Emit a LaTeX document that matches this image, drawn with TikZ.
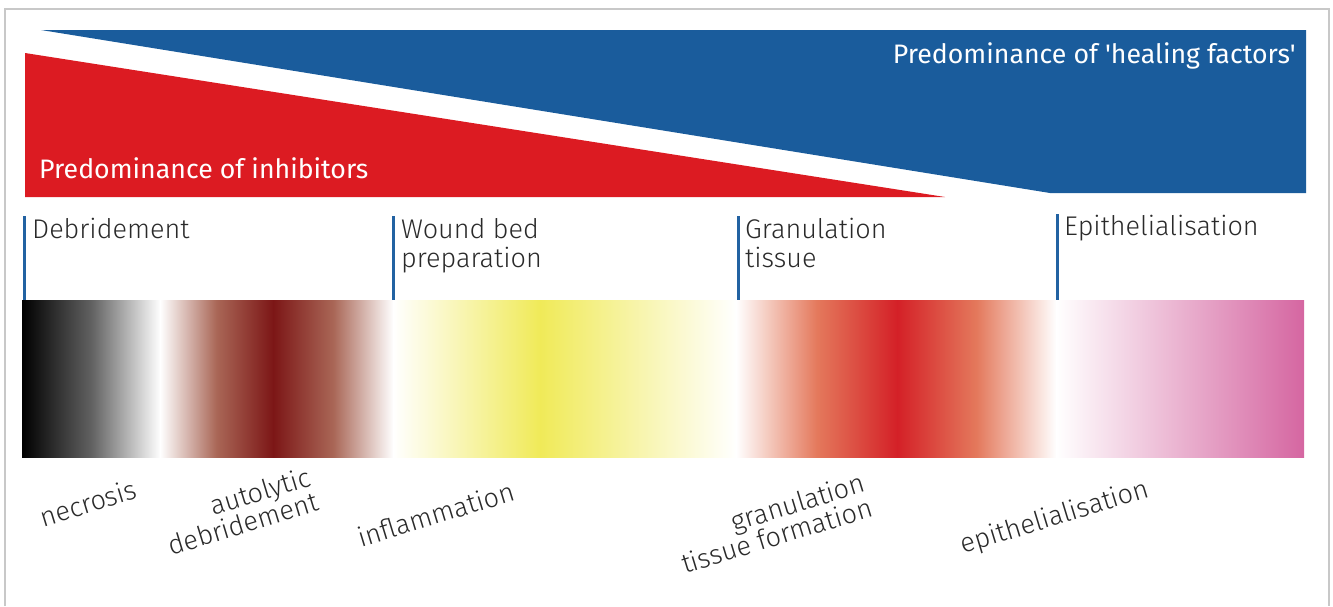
\documentclass[tikz,border=0pt]{standalone}
\usepackage{fontspec}
\setmainfont{Fira Sans}
\newfontfamily\lightfont{Fira Sans Light}
\definecolor{bannerblue}{HTML}{1A5C9C}
\definecolor{bannerred}{HTML}{DC1B22}
\definecolor{markblue}{HTML}{2262A2}
\definecolor{darkbrown}{HTML}{7C1616}
\definecolor{midbrown}{HTML}{A96656}
\definecolor{yel}{HTML}{F0EA58}
\definecolor{gred}{HTML}{D42027}
\definecolor{midred}{HTML}{E4795C}
\definecolor{pinkish}{HTML}{D566A1}
\definecolor{txt}{HTML}{2A2A2A}
\definecolor{framegray}{HTML}{C8C8C8}
\begin{document}
\begin{tikzpicture}[x=1pt,y=-1pt,
  bannertext/.style={text=white,font=\fontsize{26.7}{32}\selectfont,inner sep=0pt},
  phase/.style={text=txt,font=\lightfont\fontsize{27}{32}\selectfont,inner sep=0pt,anchor=base west},
  marker/.style={draw=markblue,line width=3pt},
  lbl/.style={text=txt,font=\lightfont\fontsize{27}{26}\selectfont,rotate=17,align=right,inner sep=0pt}]
\useasboundingbox (0,0) rectangle (1333,606);
\draw[framegray,line width=1.5pt] (5,606) -- (5,9) -- (1329,9) -- (1329,606);
% banners
\fill[bannerblue] (41,30) -- (1306,30) -- (1306,193) -- (1050,193) -- cycle;
\fill[bannerred] (25,53) -- (945,197) -- (25,197) -- cycle;
\node[bannertext,anchor=base west] (inh) at (39,178) {Predominance of inhibitors};
\node[bannertext,anchor=base east] (heal) at (1296,63) {Predominance of \textquotesingle healing factors\textquotesingle};
% gradient bar
\shade[left color=black,right color=white,middle color=black!62] (22,300) rectangle (160.5,457);
\shade[left color=white,right color=darkbrown,middle color=midbrown] (160,300) rectangle (273.5,457);
\shade[left color=darkbrown,right color=white,middle color=midbrown] (273,300) rectangle (393.5,457);
\shade[left color=white,right color=yel] (393,300) rectangle (540.5,457);
\shade[left color=yel,right color=white] (540,300) rectangle (736.5,457);
\shade[left color=white,right color=gred,middle color=midred] (736,300) rectangle (897.5,457);
\shade[left color=gred,right color=white,middle color=midred] (897,300) rectangle (1056.5,457);
\shade[left color=white,right color=pinkish] (1056,300) rectangle (1304,457);
% phase markers
\draw[marker] (24,216) -- (24,300);
\draw[marker] (393,216) -- (393,300);
\draw[marker] (738,216) -- (738,300);
\draw[marker] (1057,214) -- (1057,300);
\node[phase] (deb) at (32,238) {Debridement};
\node[phase] (wb1) at (401,238) {Wound bed};
\node[phase] (wb2) at (401,267) {preparation};
\node[phase] (gt1) at (745,238) {Granulation};
\node[phase] (gt2) at (745,267) {tissue};
\node[phase] (epi) at (1064,235) {Epithelialisation};
% bottom labels
\node[lbl] (nec) at (88,503) {necrosis};
\node[lbl] (aut) at (239,511) {autolytic\\debridement};
\node[lbl] (inf) at (436,514) {inflammation};
\node[lbl] (gra) at (773,523) {granulation\\tissue formation};
\node[lbl] (epl) at (1055,518) {epithelialisation};
\end{tikzpicture}
\end{document}
